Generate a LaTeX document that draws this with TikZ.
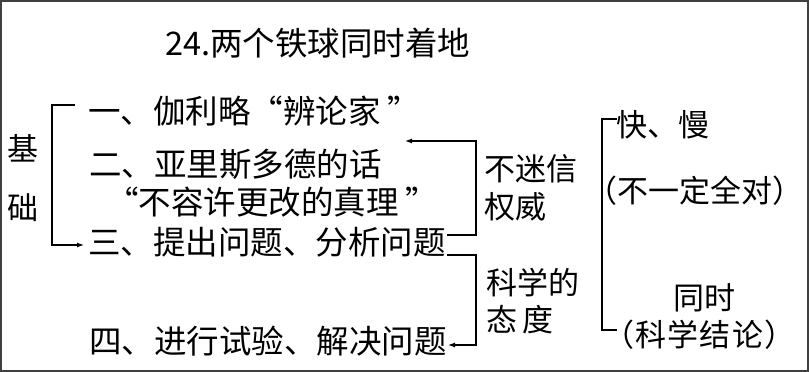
\documentclass[tikz,border=0pt]{standalone}
\usepackage{fontspec}
\setmainfont{Noto Sans CJK SC}
\usetikzlibrary{arrows.meta}
\begin{document}
\begin{tikzpicture}[x=1pt,y=-1pt,
  txt/.style={inner sep=0pt,anchor=west,font=\fontsize{31}{31}\selectfont},
  lst/.style={inner sep=0pt,anchor=west,font=\fontsize{32.5}{32}\selectfont},
  par/.style={inner sep=0pt,anchor=west,font=\fontsize{31}{31}\selectfont\addfontfeatures{LetterSpace=4}},
  conn/.style={line width=1.2pt,-{Latex[length=7pt,width=5pt]}},
  brk/.style={line width=1.2pt}]
\useasboundingbox (0,0) rectangle (809,372);
\draw[line width=2pt,black!75] (1,1) rectangle (808,371);
% title
\node[lst] (title) at (165,43) {24.两个铁球同时着地};
% left label
\node[txt,anchor=center] (ji) at (23,148) {基};
\node[txt,anchor=center] (chu) at (23,208) {础};
% list
\node[lst] (l1) at (88,111) {一、伽利略“辨论家 ”};
\node[lst] (l2) at (89,164) {二、亚里斯多德的话};
\node[lst] (l3) at (106,202) {“不容许更改的真理 ”};
\node[lst] (l4) at (88,242) {三、提出问题、分析问题};
\node[lst] (l5) at (89,341) {四、进行试验、解决问题};
% middle labels
\node[txt] (m1) at (484,169) {不迷信};
\node[txt] (m2) at (484,207) {权威};
\node[txt] (m3) at (486,283) {科学的};
\node[txt] (m4) at (486,320) {态\,度};
% right
\node[txt] (r1) at (616,125) {快、慢};
\node[txt] (r2) at (586,191) {（不一定全对）};
\node[txt] (r3) at (673,298) {同时};
\node[par] (r4) at (603,335) {（科学结论）};
% left bracket
\coordinate (lbt) at (75,105);
\coordinate (lbb) at (84,245);
\draw[brk] (lbt) -- (52,105) -- (52,245) -- (60,245);
\draw[conn] (52,245) -- (lbb);
% connectors
\coordinate (a1s) at (447,235);
\coordinate (a1e) at (405,141);
\coordinate (a1c) at (476,141);
\draw[conn] (a1s) -| (a1c) -- (a1e);
\coordinate (a2s) at (447,255);
\coordinate (a2e) at (448,345);
\coordinate (a2c) at (476,345);
\draw[conn] (a2s) -| (a2c) -- (a2e);
% right bracket
\draw[brk] (617,119) -- (602,119) -- (602,330) -- (617,330);
\end{tikzpicture}
\end{document}
